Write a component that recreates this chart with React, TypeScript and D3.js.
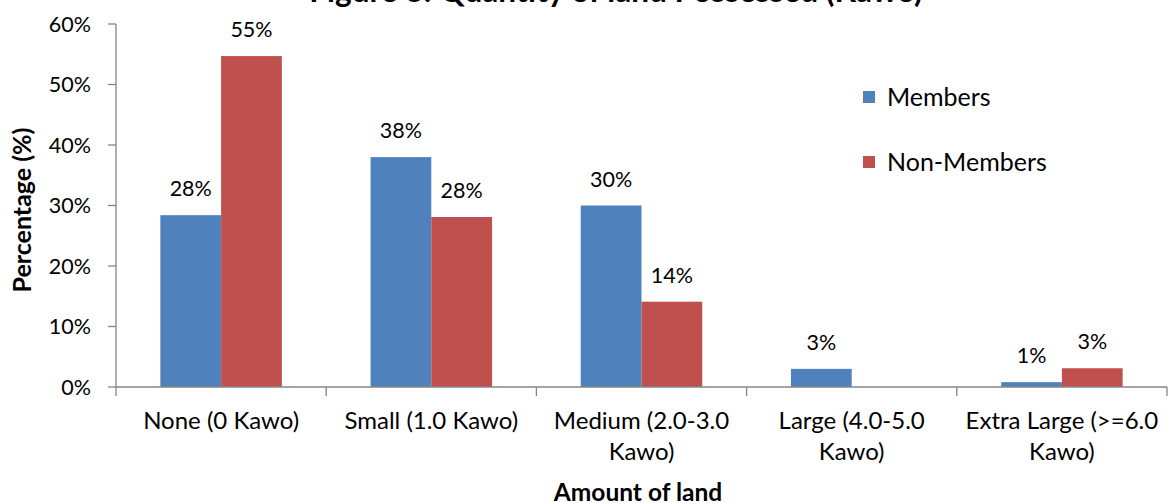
import React from "react";
import * as d3 from "d3";

const categories: string[][] = [
  ["None (0 Kawo)"],
  ["Small (1.0 Kawo)"],
  ["Medium (2.0-3.0", "Kawo)"],
  ["Large (4.0-5.0", "Kawo)"],
  ["Extra Large (>=6.0", "Kawo)"],
];
const members: number[] = [28.4, 38.0, 30.0, 3.0, 0.8];
const nonMembers: (number | null)[] = [54.7, 28.1, 14.1, null, 3.1];
const seriesNames = ["Members", "Non-Members"];
const seriesColors = ["#4F81BD", "#C0504D"];
const yTicks = [0, 10, 20, 30, 40, 50, 60];

const W = 1169;
const H = 503;
const left = 116;
const right = 1167;
const top = 24;
const bottom = 387;
const FONT = "Lato, 'Open Sans', sans-serif";

export default function App() {
  const x = d3
    .scaleBand<number>()
    .domain(d3.range(categories.length))
    .range([left, right])
    .paddingInner(0)
    .paddingOuter(0);
  const inner = d3
    .scaleBand<number>()
    .domain([0, 1])
    .range([0, x.bandwidth()])
    .paddingOuter(0.73)
    .paddingInner(0);
  const y = d3.scaleLinear().domain([0, 60]).range([bottom, top]);

  const series = [members, nonMembers];
  const axisColor = "#868686";

  return (
    <svg
      width={W}
      height={H}
      style={{ position: "fixed", left: 0, top: 0, background: "#fff" }}
      fontFamily={FONT}
    >
      <rect width={W} height={H} fill="#fff" />
      {/* Title, mostly above the top edge */}
      <text x={616} y={2} textAnchor="middle" fontSize={31.5} fontWeight="bold" fill="#000">
        Figure 3: Quantity of land Possessed (Kawo)
      </text>

      {/* Y axis */}
      <line x1={left} x2={left} y1={top} y2={bottom} stroke={axisColor} strokeWidth={1.3} />
      {yTicks.map((t) => (
        <g key={t}>
          <line x1={left - 8} x2={left} y1={y(t)} y2={y(t)} stroke={axisColor} strokeWidth={1.3} />
          <text x={91} y={y(t)} dy="0.36em" textAnchor="end" fontSize={21.5} fill="#000">
            {t}%
          </text>
        </g>
      ))}

      {/* Bars */}
      {series.map((vals, si) =>
        vals.map((v, ci) =>
          v == null ? null : (
            <g key={`${si}-${ci}`}>
              <rect
                x={(x(ci) as number) + (inner(si) as number)}
                y={y(v)}
                width={inner.bandwidth()}
                height={bottom - y(v)}
                fill={seriesColors[si]}
              />
              <text
                x={(x(ci) as number) + (inner(si) as number) + inner.bandwidth() / 2}
                y={y(v) - 19}
                textAnchor="middle"
                fontSize={21.5}
                fill="#000"
              >
                {Math.round(v)}%
              </text>
            </g>
          )
        )
      )}

      {/* X axis */}
      <line x1={left} x2={right} y1={bottom} y2={bottom} stroke={axisColor} strokeWidth={1.3} />
      {d3.range(categories.length + 1).map((i) => {
        const xx = i < categories.length ? (x(i) as number) : right;
        return (
          <line key={i} x1={xx} x2={xx} y1={bottom} y2={bottom + 9} stroke={axisColor} strokeWidth={1.3} />
        );
      })}
      {categories.map((lines, ci) => (
        <text key={ci} textAnchor="middle" fontSize={24} fill="#000">
          {lines.map((l, li) => (
            <tspan key={li} x={(x(ci) as number) + x.bandwidth() / 2} y={421 + li * 31} dy="0.35em">
              {l}
            </tspan>
          ))}
        </text>
      ))}

      {/* Axis titles */}
      <text x={638} y={492} dy="0.35em" textAnchor="middle" fontSize={24.5} fontWeight="bold" fill="#000">
        Amount of land
      </text>
      <text
        transform={`translate(22,${210}) rotate(-90)`}
        dy="0.35em"
        textAnchor="middle"
        fontSize={25}
        fontWeight="bold"
        fill="#000"
      >
        Percentage (%)
      </text>

      {/* Legend */}
      {seriesNames.map((n, i) => (
        <g key={n} transform={`translate(863,${97 + i * 65})`}>
          <rect x={0} y={-6} width={12} height={12} fill={seriesColors[i]} />
          <text x={24} y={0} dy="0.35em" fontSize={25} fill="#000">
            {n}
          </text>
        </g>
      ))}
    </svg>
  );
}
